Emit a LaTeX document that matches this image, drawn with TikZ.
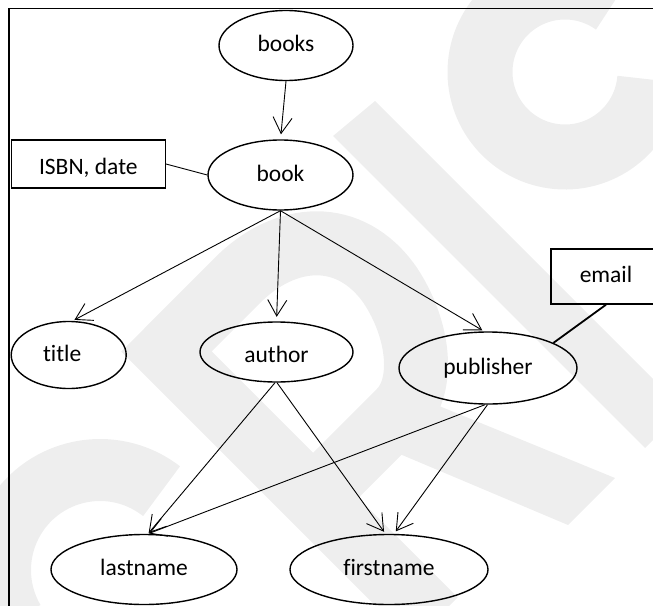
\documentclass[tikz,border=0pt]{standalone}
\usepackage{fontspec}
\setmainfont{Carlito}[Ligatures=NoCommon]
\usetikzlibrary{arrows.meta,shapes.geometric}
\definecolor{wmgray}{RGB}{238,238,238}
\begin{document}
\begin{tikzpicture}[x=1pt,y=-1pt,
  wm/.style={draw=wmgray,line width=64pt},
  lbl/.style={inner sep=0pt,text height=17pt,text depth=5pt,font=\fontsize{23.5}{28}\selectfont},
  ent/.style={ellipse,draw,line width=1.4pt,lbl},
  attr/.style={rectangle,draw,line width=1.4pt,lbl},
  low/.style={text height=25pt},
  link/.style={line width=0.9pt,-{Straight Barb[length=16pt,width=19pt,line width=0.9pt]}},
  plain/.style={line width=0.9pt},
]
\useasboundingbox (0,0) rectangle (653,605);

% light background logo
\begin{scope}
  \clip (0,0) rectangle (653,605);
  \fill[wmgray] (375,101) -- (670,396) -- (670,423) -- (645,448) -- (333,136) -- cycle;
  \draw[wm,line width=65pt] (565,72) ++(5:85) arc[start angle=5,end angle=305,radius=85];
  \draw[wm,line width=62pt] (100,570) ++(308:100) arc[start angle=308,end angle=150,radius=100];
  \draw[wm,line join=miter] (435,620) -- (166.5,351.5) -- (236.4,281.4)
    .. controls (285,232) and (350,228) .. (390,285)
    .. controls (420,330) and (425,386) .. (400,411) -- (300,511);
  \fill[wmgray] (405,392) -- (615,478) -- (568,525) -- (395,452) -- cycle;
\end{scope}

% frame
\draw[line width=1.3pt] (9,610) -- (9,8.5) -- (660,8.5);

% elements
\node[ent,minimum width=134pt,minimum height=70pt] (books) at (286,45.5) {books};
\node[ent,minimum width=145pt,minimum height=70pt] (book) at (280.5,175) {book};
\node[attr,low,minimum width=154pt,minimum height=48pt] (isbn) at (88.3,164) {ISBN, date};
\node[ent,minimum width=115pt,minimum height=67pt] (title) at (68.7,355) {title\kern13pt};
\node[ent,low,minimum width=153pt,minimum height=60pt] (author) at (276.5,352) {author};
\node[ent,minimum width=178pt,minimum height=72pt] (publisher) at (488,368) {publisher};
\node[attr,minimum width=110pt,minimum height=55pt] (email) at (606,276.5) {email};
\node[ent,minimum width=186pt,minimum height=70pt] (lastname) at (144,569.5) {lastname};
\node[ent,minimum width=198pt,minimum height=70pt] (firstname) at (389,569.5) {firstname};

% connectors
\draw[link,shorten >=5pt] (books.south) -- (book.north);
\draw[plain] (isbn.east) -- (book.west);
\draw[link,shorten >=2pt] (book.south) -- ([xshift=4pt]title.north);
\draw[link,shorten >=4.5pt] (book.south) -- (author.north);
\draw[link,shorten >=2pt] (book.south) -- ([xshift=-4pt]publisher.north);
\draw[line width=1.8pt] (email.south) -- (publisher.21);
\draw[link,shorten >=1pt] ([xshift=-1.5pt]author.south) -- ([xshift=4pt]lastname.north);
\draw[link,shorten >=2.5pt] ([xshift=0.5pt]author.south) -- ([xshift=-3.5pt]firstname.north);
\draw[link,shorten >=1pt] ([xshift=-3pt]publisher.south) -- ([xshift=4pt]lastname.north);
\draw[link,shorten >=3pt] ([xshift=-0.5pt]publisher.south) -- ([xshift=5pt]firstname.north);
\end{tikzpicture}
\end{document}
